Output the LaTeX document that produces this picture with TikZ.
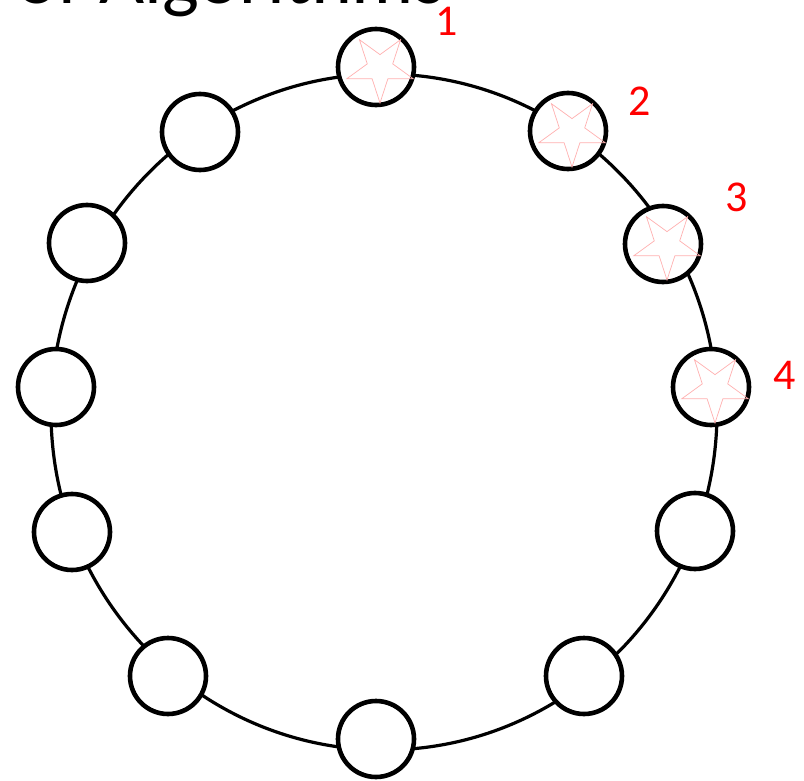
\documentclass[tikz,border=0pt]{standalone}
\usepackage{fontspec}
\setmainfont{Carlito}
\usetikzlibrary{shapes.geometric}
\definecolor{starpink}{HTML}{FFB0B0}
\definecolor{labred}{HTML}{FF0000}
\tikzset{
  ring/.style={line width=3.2pt, draw=black},
  peer/.style={circle, draw=black, line width=4.6pt, fill=white, minimum size=76pt, inner sep=0pt},
  starmark/.style={star, star points=5, star point ratio=2.618, shape border rotate=180, draw=starpink, line width=0.7pt, minimum size=70pt, inner sep=0pt},
  numlabel/.style={text=labred, font=\fontsize{44}{48}\selectfont, inner sep=0pt}
}
\begin{document}
\begin{tikzpicture}[x=1pt, y=-1pt]
\useasboundingbox (0,0) rectangle (804,781);
\clip (0,0) rectangle (804,781);
% partial title
\node[anchor=base east, inner sep=0pt, font=\fontsize{78}{88}\selectfont] (title) at (445,4) {of Algorithms};
% big ring
\draw[ring] (384,412) ellipse [x radius=333, y radius=338];
% peers
\node[peer] (p1) at (376,67) {};
\node[peer] (p2) at (568,131) {};
\node[peer] (p3) at (663,244) {};
\node[peer] (p4) at (711,387) {};
\node[peer] (p5) at (695,531) {};
\node[peer] (p6) at (584,676) {};
\node[peer] (p7) at (376,739) {};
\node[peer] (p8) at (168,676) {};
\node[peer] (p9) at (72,532) {};
\node[peer] (p10) at (56,387) {};
\node[peer] (p11) at (87,243) {};
\node[peer] (p12) at (200,132) {};
% stars
\node[starmark] (s1) at (380,68) {};
\node[starmark] (s2) at (572,132) {};
\node[starmark] (s3) at (667,245) {};
\node[starmark] (s4) at (715,388) {};
% labels
\node[numlabel] (l1) at (447,21) {1};
\node[numlabel] (l2) at (640,101) {2};
\node[numlabel] (l3) at (737,197) {3};
\node[numlabel] (l4) at (785,375) {4};
\end{tikzpicture}
\end{document}
